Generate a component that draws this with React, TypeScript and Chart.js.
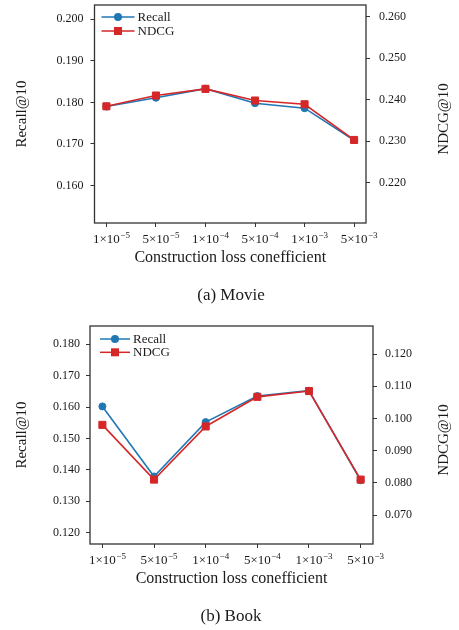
import React, { useEffect, useRef } from 'react';
import { Chart, registerables } from 'chart.js';

Chart.register(...registerables);

const SERIF = '"Liberation Serif", "DejaVu Serif", serif';
const TEXT = '#1a1a1a';
const FRAME = '#333333';

const categories = ['1e-5', '5e-5', '1e-4', '5e-4', '1e-3', '5e-3'];
const tickMantissas = ['1', '5', '1', '5', '1', '5'];
const tickExponents = ['\u22125', '\u22125', '\u22124', '\u22124', '\u22123', '\u22123'];
const seriesNames = ['Recall', 'NDCG'];
const seriesColors = ['#1f77b4', '#d62728'];
const seriesStyles = ['circle', 'rect'];
const xTitle = 'Construction loss conefficient';
const leftTitle = 'Recall@10';
const rightTitle = 'NDCG@10';

const movieRecall = [0.179, 0.1811, 0.1833, 0.1798, 0.1786, 0.1709];
const movieNDCG = [0.2384, 0.241, 0.2426, 0.2398, 0.2389, 0.2303];
const bookRecall = [0.1602, 0.1379, 0.1552, 0.1635, 0.1652, 0.1367];
const bookNDCG = [0.098, 0.081, 0.0975, 0.1067, 0.1085, 0.081];

const movieRecallRange = [0.151, 0.2034];
const movieNDCGRange = [0.2103, 0.2628];
const bookRecallRange = [0.1164, 0.1858];
const bookNDCGRange = [0.061, 0.1287];

type PanelProps = {
  top: number;
  height: number;
  plotLeft: number;
  plotRight: number;
  recall: number[];
  ndcg: number[];
  leftRange: number[];
  rightRange: number[];
  caption: string;
  leftPad: number;
  rightPad: number;
  legendDx: number;
  legendLine: number;
  legendY0: number;
  legendDy: number;
};

const W = 459;

const clearPadding = (s: any) => {
  s.paddingTop = 0;
  s.paddingBottom = 0;
  s.paddingLeft = 0;
  s.paddingRight = 0;
};

function Panel(p: PanelProps) {
  const ref = useRef<HTMLCanvasElement>(null);
  useEffect(() => {
    const canvas = ref.current;
    if (!canvas) return;
    const overlay = {
      id: 'overlay',
      afterDraw(chart: any) {
        const { ctx, chartArea: a, scales } = chart;
        ctx.save();
        // frame
        ctx.strokeStyle = FRAME;
        ctx.lineWidth = 1.3;
        ctx.strokeRect(a.left, a.top, a.right - a.left, a.bottom - a.top);
        // x tick labels with superscripts
        const xs = scales.x;
        ctx.fillStyle = TEXT;
        ctx.textAlign = 'left';
        ctx.textBaseline = 'alphabetic';
        categories.forEach((_, i) => {
          const px = xs.getPixelForValue(i);
          const base = tickMantissas[i] + '\u00d710';
          ctx.font = `13px ${SERIF}`;
          const w = ctx.measureText(base).width;
          const by = a.bottom + 20;
          ctx.fillText(base, px - w / 2, by);
          ctx.font = `9px ${SERIF}`;
          ctx.fillText(tickExponents[i], px + w / 2 + 0.5, by - 5.5);
        });
        // right title (reads bottom to top)
        ctx.save();
        ctx.font = `15px ${SERIF}`;
        ctx.textAlign = 'center';
        ctx.textBaseline = 'middle';
        ctx.translate(chart.width - 15, (a.top + a.bottom) / 2 + 5);
        ctx.rotate(-Math.PI / 2);
        ctx.fillText(rightTitle, 0, 0);
        ctx.restore();
        // legend
        chart.data.datasets.forEach((ds: any, i: number) => {
          const y = a.top + p.legendY0 + i * p.legendDy;
          const x0 = a.left + p.legendDx;
          const x1 = x0 + p.legendLine;
          ctx.strokeStyle = ds.borderColor;
          ctx.lineWidth = 1.5;
          ctx.beginPath();
          ctx.moveTo(x0, y);
          ctx.lineTo(x1, y);
          ctx.stroke();
          const cx = (x0 + x1) / 2;
          ctx.fillStyle = ds.backgroundColor;
          if (ds.pointStyle === 'circle') {
            ctx.beginPath();
            ctx.arc(cx, y, 4, 0, Math.PI * 2);
            ctx.fill();
          } else {
            ctx.fillRect(cx - 4, y - 4, 8, 8);
          }
          ctx.fillStyle = TEXT;
          ctx.font = `13px ${SERIF}`;
          ctx.textAlign = 'left';
          ctx.textBaseline = 'middle';
          ctx.fillText(ds.label, x1 + 3, y + 0.5);
        });
        // caption
        ctx.fillStyle = TEXT;
        ctx.font = `17px ${SERIF}`;
        ctx.textAlign = 'center';
        ctx.textBaseline = 'middle';
        ctx.fillText(p.caption, 231, 296);
        ctx.restore();
      },
    };

    const makeDs = (idx: number, vals: number[], axis: string) => ({
      label: seriesNames[idx],
      data: vals.map((v, i) => ({ x: i, y: v })),
      yAxisID: axis,
      borderColor: seriesColors[idx],
      backgroundColor: seriesColors[idx],
      pointBackgroundColor: seriesColors[idx],
      pointBorderColor: seriesColors[idx],
      pointStyle: seriesStyles[idx],
      pointRadius: idx === 0 ? 3.5 : 5,
      pointBorderWidth: 1,
      borderWidth: 1.6,
      tension: 0,
      order: idx === 0 ? 1 : 0,
    });

    const yCommon = (pad: number) => ({
      type: 'linear',
      ticks: {
        stepSize: 0.01,
        includeBounds: false,
        padding: pad,
        color: TEXT,
        font: { family: SERIF, size: 12 },
        callback: (v: any) => Number(v).toFixed(3),
      },
      grid: { drawOnChartArea: false, drawTicks: true, tickLength: 4, color: FRAME, lineWidth: 1 },
      border: { display: false },
    });

    const chart = new Chart(canvas, {
      type: 'line',
      data: {
        datasets: [makeDs(0, p.recall, 'y'), makeDs(1, p.ndcg, 'y1')],
      },
      options: {
        animation: false,
        responsive: false,
        maintainAspectRatio: false,
        devicePixelRatio: 1,
        layout: {
          autoPadding: false,
          padding: { left: 0, right: 0, top: 5, bottom: p.height - 275 },
        },
        plugins: {
          legend: { display: false },
          tooltip: { enabled: false },
        },
        scales: {
          x: {
            type: 'linear',
            min: -0.24,
            max: 5.24,
            ticks: { stepSize: 1, includeBounds: false, callback: () => '', font: { family: SERIF, size: 13 } },
            grid: { drawOnChartArea: false, drawTicks: true, tickLength: 4, color: FRAME, lineWidth: 1 },
            border: { display: false },
            title: {
              display: true,
              text: xTitle,
              color: TEXT,
              font: { family: SERIF, size: 16 },
              padding: { top: 0, bottom: 7.4 },
            },
            afterFit: (s: any) => {
              s.height = 52;
              clearPadding(s);
            },
          },
          y: {
            ...yCommon(p.leftPad),
            position: 'left',
            min: p.leftRange[0],
            max: p.leftRange[1],
            title: {
              display: true,
              text: leftTitle,
              color: TEXT,
              font: { family: SERIF, size: 15 },
              padding: { top: 13, bottom: 0 },
            },
            afterFit: (s: any) => {
              s.width = p.plotLeft;
              clearPadding(s);
            },
          },
          y1: {
            ...yCommon(p.rightPad),
            position: 'right',
            min: p.rightRange[0],
            max: p.rightRange[1],
            afterFit: (s: any) => {
              s.width = W - p.plotRight;
              clearPadding(s);
            },
          },
        } as any,
      },
      plugins: [overlay],
    } as any);
    return () => chart.destroy();
  }, []);
  return (
    <canvas
      ref={ref}
      width={W}
      height={p.height}
      style={{ position: 'absolute', left: 0, top: p.top, width: W, height: p.height }}
    />
  );
}

export default function App() {
  return (
    <div
      style={{
        position: 'absolute',
        left: 0,
        top: 0,
        width: W,
        height: 630,
        overflow: 'hidden',
        background: '#ffffff',
      }}
    >
      <Panel
        top={0}
        height={310}
        plotLeft={94.5}
        plotRight={366}
        recall={movieRecall}
        ndcg={movieNDCG}
        leftRange={movieRecallRange}
        rightRange={movieNDCGRange}
        caption="(a) Movie"
        leftPad={7}
        rightPad={9}
        legendDx={7}
        legendLine={33}
        legendY0={12}
        legendDy={14}
      />
      <Panel
        top={321}
        height={305}
        plotLeft={90}
        plotRight={373}
        recall={bookRecall}
        ndcg={bookNDCG}
        leftRange={bookRecallRange}
        rightRange={bookNDCGRange}
        caption="(b) Book"
        leftPad={6}
        rightPad={8}
        legendDx={10}
        legendLine={30}
        legendY0={13}
        legendDy={13.3}
      />
    </div>
  );
}
